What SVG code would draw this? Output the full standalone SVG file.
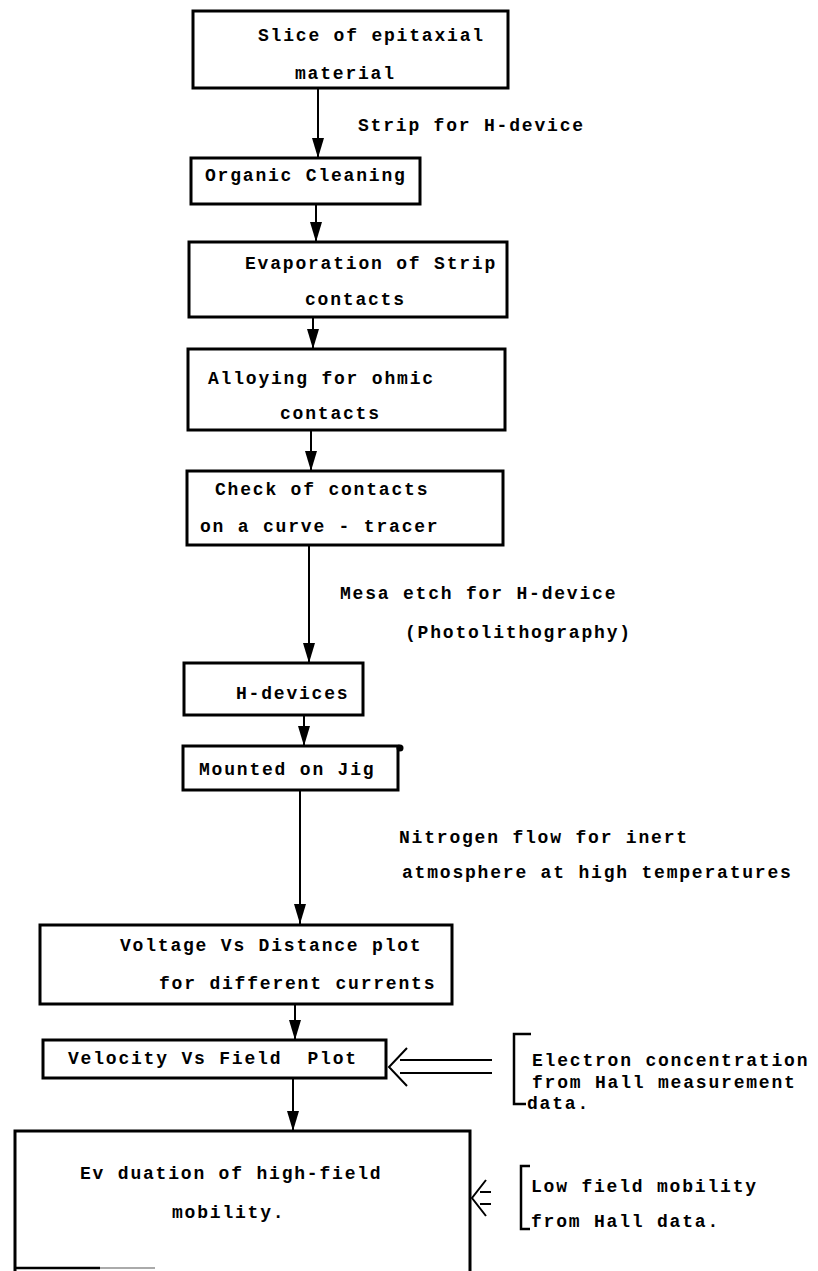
<svg xmlns="http://www.w3.org/2000/svg" width="818" height="1271" viewBox="0 0 818 1271">
<style>
  .box { fill: #fff; stroke: #000; stroke-width: 3; }
  .t { font-family: "Liberation Mono", "DejaVu Sans Mono", monospace; font-size: 18px; font-weight: bold; letter-spacing: 1.8px; fill: #000; white-space: pre; }
  .c { stroke: #000; stroke-width: 2; fill: none; }
  .ca { stroke: #000; stroke-width: 2; fill: none; marker-end: url(#ah); }
  .br { stroke: #000; stroke-width: 2.5; fill: none; }
</style>
<defs>
  <marker id="ah" markerUnits="userSpaceOnUse" markerWidth="20" markerHeight="14" viewBox="0 0 20 14" refX="20" refY="7" orient="auto">
    <path d="M0,1 L20,7 L0,13 z" fill="#000"/>
  </marker>
</defs>
<rect width="818" height="1271" fill="#fff"/>

<g id="connectors">
  <line class="ca" x1="318" y1="88" x2="318" y2="158"/>
  <line class="ca" x1="316" y1="204" x2="316" y2="242"/>
  <line class="ca" x1="313" y1="317" x2="313" y2="349"/>
  <line class="ca" x1="311" y1="430" x2="311" y2="471"/>
  <line class="ca" x1="309" y1="545" x2="309" y2="663"/>
  <line class="ca" x1="304" y1="715" x2="304" y2="746"/>
  <line class="ca" x1="300" y1="790" x2="300" y2="924"/>
  <line class="ca" x1="295" y1="1004" x2="295" y2="1040"/>
  <line class="ca" x1="293" y1="1078" x2="293" y2="1131"/>
  <path class="c" d="M407,1048 L389,1067 L407,1086"/>
  <path class="c" d="M400,1060 H492 M400,1073 H492"/>
  <path class="c" d="M486,1180 L472,1198 L486,1216"/>
  <path class="c" d="M480,1192 H491 M480,1204 H491"/>
</g>

<g id="node-slice">
  <rect class="box" x="193" y="11" width="315" height="77"/>
  <text class="t" x="258" y="41">Slice of epitaxial</text>
  <text class="t" x="295" y="79">material</text>
</g>
<text class="t" x="358" y="131">Strip for H-device</text>

<g id="node-organic">
  <rect class="box" x="191" y="158" width="229" height="46"/>
  <text class="t" x="205" y="181">Organic Cleaning</text>
</g>

<g id="node-evaporation">
  <rect class="box" x="189" y="242" width="318" height="75"/>
  <text class="t" x="245" y="269">Evaporation of Strip</text>
  <text class="t" x="305" y="305">contacts</text>
</g>

<g id="node-alloying">
  <rect class="box" x="188" y="349" width="317" height="81"/>
  <text class="t" x="208" y="384">Alloying for ohmic</text>
  <text class="t" x="280" y="419">contacts</text>
</g>

<g id="node-check">
  <rect class="box" x="187" y="471" width="316" height="74"/>
  <text class="t" x="215" y="495">Check of contacts</text>
  <text class="t" x="200" y="532">on a curve - tracer</text>
</g>
<text class="t" x="340" y="599">Mesa etch for H-device</text>
<text class="t" x="405" y="638">(Photolithography)</text>

<g id="node-hdevices">
  <rect class="box" x="184" y="663" width="179" height="52"/>
  <text class="t" x="236" y="699">H-devices</text>
</g>

<g id="node-mounted">
  <rect class="box" x="183" y="746" width="215" height="44"/>
  <circle cx="400" cy="748" r="3.5" fill="#000"/>
  <text class="t" x="199" y="775">Mounted on Jig</text>
</g>
<text class="t" x="399" y="843">Nitrogen flow for inert</text>
<text class="t" x="402" y="878">atmosphere at high temperatures</text>

<g id="node-voltage">
  <rect class="box" x="40" y="925" width="412" height="79"/>
  <text class="t" x="120" y="951">Voltage Vs Distance plot</text>
  <text class="t" x="159" y="989">for different currents</text>
</g>

<g id="node-velocity">
  <rect class="box" x="43" y="1040" width="343" height="38"/>
  <text class="t" x="68" y="1064">Velocity Vs Field&#160; Plot</text>
</g>

<g id="note-electron">
  <path class="br" d="M531,1034 H514 V1104 H526"/>
  <text class="t" x="532" y="1066">Electron concentration</text>
  <text class="t" x="532" y="1088">from Hall measurement</text>
  <text class="t" x="527" y="1109">data.</text>
</g>

<g id="node-evaluation">
  <path class="box" d="M15,1271 V1131 H470 V1271"/>
  <line x1="15" y1="1268" x2="100" y2="1268" stroke="#000" stroke-width="2.5"/>
  <line x1="100" y1="1268" x2="155" y2="1268" stroke="#aaa" stroke-width="2"/>
  <text class="t" x="80" y="1179">Ev duation of high-field</text>
  <text class="t" x="172" y="1218">mobility.</text>
</g>

<g id="note-lowfield">
  <path class="br" d="M530,1166 H521 V1229 H530"/>
  <text class="t" x="531" y="1192">Low field mobility</text>
  <text class="t" x="531" y="1227">from Hall data.</text>
</g>
</svg>
